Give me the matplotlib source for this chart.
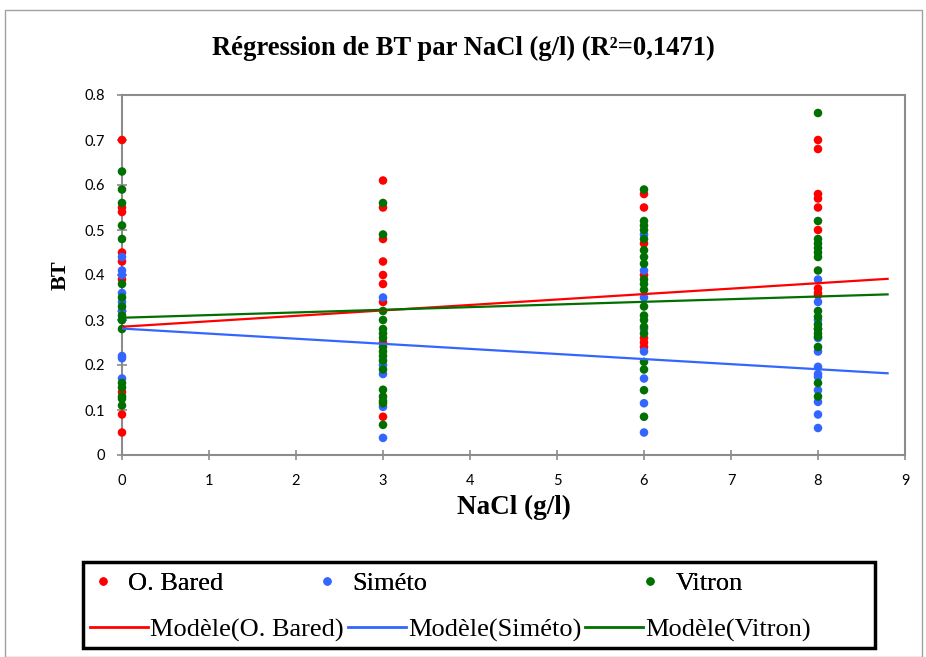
import matplotlib
matplotlib.use('Agg')
import matplotlib.pyplot as plt
from matplotlib.lines import Line2D
from matplotlib.patches import Rectangle

# NaCl levels (g/l)
nacl_levels = [0, 3, 6, 8]

# BT values, per NaCl level
bared_0 = [0.70, 0.55, 0.54, 0.45, 0.43, 0.39, 0.32, 0.14, 0.09, 0.05]
bared_3 = [0.61, 0.55, 0.48, 0.43, 0.40, 0.38, 0.34, 0.25, 0.085]
bared_6 = [0.58, 0.55, 0.47, 0.40, 0.26, 0.25, 0.24]
bared_8 = [0.70, 0.68, 0.58, 0.57, 0.55, 0.50, 0.37, 0.36, 0.355]

simeto_0 = [0.44, 0.41, 0.40, 0.36, 0.34, 0.32, 0.30, 0.22, 0.215, 0.17]
simeto_3 = [0.35, 0.20, 0.18, 0.107, 0.038]
simeto_6 = [0.49, 0.41, 0.35, 0.28, 0.23, 0.17, 0.115, 0.05]
simeto_8 = [0.39, 0.34, 0.30, 0.28, 0.26, 0.23, 0.196, 0.18, 0.174, 0.144, 0.118, 0.09, 0.06]

vitron_0 = [0.63, 0.59, 0.56, 0.51, 0.48, 0.38, 0.35, 0.33, 0.31, 0.30, 0.28, 0.16, 0.15, 0.13, 0.125, 0.11]
vitron_3 = [0.56, 0.49, 0.32, 0.30, 0.28, 0.27, 0.26, 0.24, 0.23, 0.22, 0.21, 0.19,
            0.145, 0.13, 0.12, 0.115, 0.067]
vitron_6 = [0.59, 0.52, 0.51, 0.50, 0.48, 0.455, 0.44, 0.425, 0.39, 0.38, 0.367, 0.33,
            0.31, 0.30, 0.285, 0.27, 0.207, 0.19, 0.144, 0.085]
vitron_8 = [0.76, 0.52, 0.48, 0.47, 0.46, 0.45, 0.44, 0.41, 0.32, 0.307, 0.29, 0.28,
            0.27, 0.263, 0.24, 0.16, 0.13]

# regression models (intercept, slope) drawn up to x_end
model_bared = (0.285, 0.0121)
model_simeto = (0.281, -0.0113)
model_vitron = (0.305, 0.0059)
x_end = 8.8

series = [
    ('O. Bared', '#ff0000', [bared_0, bared_3, bared_6, bared_8], model_bared),
    ('Siméto', '#3366ff', [simeto_0, simeto_3, simeto_6, simeto_8], model_simeto),
    ('Vitron', '#007000', [vitron_0, vitron_3, vitron_6, vitron_8], model_vitron),
]

W, H = 926, 657
fig = plt.figure(figsize=(W / 100, H / 100), dpi=100)
# outer chart border
fig.patches.append(Rectangle((5 / W, 0.0), 917 / W, 1 - 10 / H, transform=fig.transFigure,
                             fill=False, edgecolor='#a0a0a0', linewidth=1.0))
ax = fig.add_axes([122 / W, 1 - 455 / H, (905 - 122) / W, (455 - 95) / H])

for name, color, cols, (b0, b1) in series:
    xs, ys = [], []
    for lvl, vals in zip(nacl_levels, cols):
        xs += [lvl] * len(vals)
        ys += vals
    ax.scatter(xs, ys, s=38, color=color, edgecolors='none', zorder=3, clip_on=False)

for name, color, cols, (b0, b1) in series:
    ax.plot([0, x_end], [b0, b0 + b1 * x_end], color=color, linewidth=1.6, zorder=4)

ax.set_xlim(0, 9)
ax.set_ylim(0, 0.8)
ax.set_xticks(range(0, 10))
ax.set_yticks([i / 10 for i in range(0, 9)])
ax.set_yticklabels(['0'] + ['0.%d' % i for i in range(1, 9)])
for s in ax.spines.values():
    s.set_color('#8c8c8c')
    s.set_linewidth(1.5)
ax.tick_params(colors='#8c8c8c', labelcolor='black', labelsize=10.5, length=7, width=1.2,
               direction='inout')
ax.tick_params(axis='x', pad=10)
ax.tick_params(axis='y', pad=9)
for lab in ax.get_xticklabels() + ax.get_yticklabels():
    lab.set_family('Lato')

serif = 'Liberation Serif'
ax.set_xlabel('NaCl (g/l)', family=serif, fontweight='bold', fontsize=19.5, labelpad=5)
ax.set_ylabel('BT', family=serif, fontweight='bold', fontsize=16, labelpad=10)
fig.text(0.5, 1 - 48 / H, 'Régression de BT par NaCl (g/l) (R²=0,1471)', ha='center', va='center',
         family=serif, fontweight='bold', fontsize=19.2)

# legend: black frame, first row with markers, second row with model lines
fig.patches.append(Rectangle((83 / W, 1 - 648 / H), 792 / W, 86 / H, transform=fig.transFigure,
                             fill=False, edgecolor='black', linewidth=2.5))
leg_font = {'family': serif, 'size': 19}
marker_x = [90, 314, 637]
for (name, color, cols, model), x0 in zip(series, marker_x):
    h = Line2D([], [], marker='o', linestyle='none', color=color, markersize=5, label=name)
    lg = fig.legend(handles=[h], loc='center left', bbox_to_anchor=(x0 / W, 1 - 583 / H),
                    prop=leg_font, frameon=False, handlelength=1.0, handletextpad=0.45,
                    borderpad=0, borderaxespad=0)
    fig.add_artist(lg)

line_handles = [Line2D([], [], color=c, linewidth=2, label='Modèle(%s)' % n) for n, c, _, _ in series]
fig.legend(handles=line_handles, ncol=3, loc='center left', bbox_to_anchor=(90 / W, 1 - 630 / H),
           prop=leg_font, frameon=False, handlelength=2.2, handletextpad=0.08, columnspacing=0.15,
           borderpad=0, borderaxespad=0)

fig.savefig('out.png', dpi=100)
